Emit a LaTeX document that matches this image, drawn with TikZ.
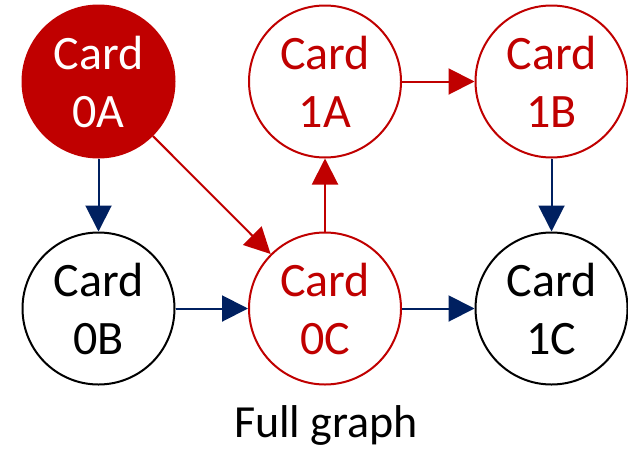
\documentclass[tikz,border=0pt]{standalone}
\usepackage{fontspec}
\setmainfont{Carlito}
\usetikzlibrary{arrows.meta}
\definecolor{cardred}{HTML}{C00000}
\definecolor{cardnavy}{HTML}{002060}
\tikzset{
  card/.style={circle, draw, line width=2pt, minimum size=152pt, inner sep=0pt,
    align=center, font=\fontsize{48}{58}\selectfont},
  plaincard/.style={card, draw=black, text=black, fill=white},
  hotcard/.style={card, draw=cardred, text=cardred, fill=white},
  srccard/.style={card, draw=cardred, fill=cardred, text=white},
  link/.style={line width=2pt, -{Triangle[length=26pt,width=26pt]}},
  navylink/.style={link, draw=cardnavy, fill=cardnavy},
  redlink/.style={link, draw=cardred, fill=cardred}
}
\begin{document}
\begin{tikzpicture}[x=1pt, y=-1pt]
  \useasboundingbox (0,0) rectangle (628,450);
  % cards
  \node[srccard]   (c0A) at (98.5,81.5)  {Card\\0A};
  \node[hotcard]   (c1A) at (325,81.5)   {Card\\1A};
  \node[hotcard]   (c1B) at (551.5,81.5) {Card\\1B};
  \node[plaincard] (c0B) at (98.5,308.5) {Card\\0B};
  \node[hotcard]   (c0C) at (325,308.5)  {Card\\0C};
  \node[plaincard] (c1C) at (551.5,308.5) {Card\\1C};
  % dependencies
  \draw[navylink] (c0A) -- (c0B);
  \draw[redlink]  (c0A) -- (c0C);
  \draw[redlink]  (c0C) -- (c1A);
  \draw[redlink]  (c1A) -- (c1B);
  \draw[navylink] (c1B) -- (c1C);
  \draw[navylink] (c0B) -- (c0C);
  \draw[navylink] (c0C) -- (c1C);
  % caption
  \node[anchor=base, inner sep=0pt, font=\fontsize{46}{55}\selectfont] (cap) at (326,437) {Full graph};
\end{tikzpicture}
\end{document}
